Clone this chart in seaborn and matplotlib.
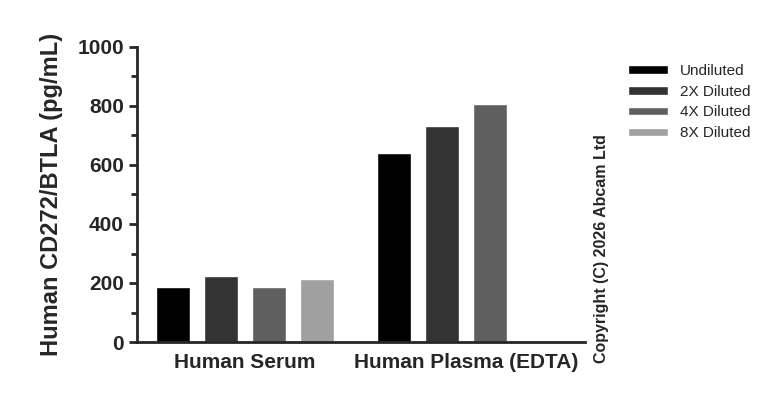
import matplotlib
matplotlib.use("Agg")
import matplotlib.pyplot as plt
import seaborn as sns
import pandas as pd
import numpy as np
from matplotlib.ticker import MultipleLocator

samples = ["Human Serum", "Human Plasma (EDTA)"]
dilutions = ["Undiluted", "2X Diluted", "4X Diluted", "8X Diluted"]
serum = [188, 225, 188, 212]
plasma = [639, 733, 808, np.nan]
colors = ["#000000", "#333333", "#5f5f5f", "#a0a0a0"]

rows = []
for s, vals in zip(samples, [serum, plasma]):
    for d, v in zip(dilutions, vals):
        rows.append({"Sample": s, "Dilution": d, "Value": v})
df = pd.DataFrame(rows)

sns.set_style("ticks")
plt.rcParams["font.family"] = ["Liberation Sans", "DejaVu Sans"]
fig = plt.figure(figsize=(7.68, 4.01), dpi=100)
ax = fig.add_axes([137/768, 1-342/401, (585-137)/768, (342-47)/401])
sns.barplot(data=df, x="Sample", y="Value", hue="Dilution", palette=colors,
            width=0.87, gap=0.3, ax=ax, legend=True, saturation=1)
ax.set_xlim(-0.49, 1.54)
ax.set_ylim(0, 1000)
ax.yaxis.set_major_locator(MultipleLocator(200))
ax.yaxis.set_minor_locator(MultipleLocator(100))
for sp in ["top", "right"]:
    ax.spines[sp].set_visible(False)
for sp in ["left", "bottom"]:
    ax.spines[sp].set_linewidth(2)
ax.tick_params(axis="y", width=2, length=6, labelsize=15)
ax.tick_params(axis="y", which="minor", width=2, length=4)
ax.tick_params(axis="x", length=0, labelsize=15, pad=8)
for t in ax.get_xticklabels() + ax.get_yticklabels():
    t.set_fontweight("bold")
ax.set_xlabel("")
ax.set_ylabel("Human CD272/BTLA (pg/mL)", fontsize=17, fontweight="bold", labelpad=10)
leg = ax.legend(loc="upper left", bbox_to_anchor=(1.065, 0.99), frameon=False,
                fontsize=11, handlelength=2.6, handleheight=0.5, labelspacing=0.45)
fig.text(0.783, 0.38, "Copyright (C) 2026 Abcam Ltd", rotation=90, fontsize=11.5,
         fontweight="bold", ha="center", va="center")
fig.savefig("out.png", dpi=100)
